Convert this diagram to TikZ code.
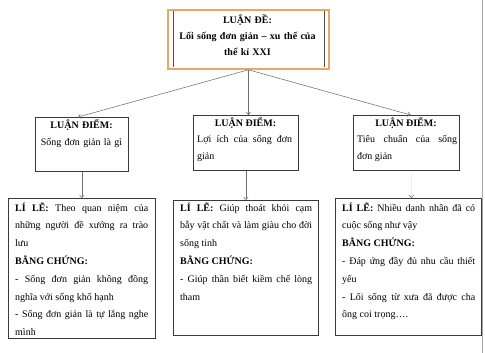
\documentclass[tikz,border=0pt]{standalone}
\usepackage{fontspec}
\setmainfont{Liberation Serif}
\usetikzlibrary{arrows.meta,calc}
\definecolor{boxc}{HTML}{3A3A3A}
\definecolor{connc}{HTML}{707070}
\definecolor{orangec}{HTML}{E9A66A}
\definecolor{innerc}{HTML}{505050}
\definecolor{edgec}{HTML}{A8A8A8}
\begin{document}
\begin{tikzpicture}[x=1pt,y=-1pt,
  box/.style={draw=boxc, line width=0.7pt, inner sep=0pt, anchor=north west},
  txt/.style={inner sep=0pt, anchor=base west, align=justify,
    font=\fontsize{10}{17.8}\selectfont, execute at begin node={\parindent=0pt}},
  ttl/.style={inner sep=0pt, anchor=base, align=center,
    font=\bfseries\fontsize{10}{17}\selectfont},
  conn/.style={draw=connc, line width=0.55pt, -{Straight Barb[length=2.5pt,width=4.5pt]}},
]
\useasboundingbox (0,0) rectangle (485,353);
\fill[white] (0,0) rectangle (485,353);
% right edge line
\draw[edgec, line width=0.7pt] (482.5,0) coordinate (e1) -- (482.5,353) coordinate (e2);

% top box
\node[draw=orangec, line width=1.8pt, minimum width=161pt, minimum height=59pt, anchor=north west, inner sep=0pt] (top) at (167,9) {};
\draw[innerc, line width=0.7pt] ($(top.north west)+(6,2)$) -- ($(top.south west)+(6,-3)$);
\draw[innerc, line width=0.7pt] ($(top.north east)+(-5,2)$) -- ($(top.south east)+(-5,-3)$);
\node[ttl, text width=160pt, font=\bfseries\fontsize{10}{16}\selectfont] (toptxt) at (247.5,23.5)
  {LUẬN ĐỀ:\\Lối sống đơn giản – xu thế của\\thế kỉ XXI};

% upper boxes
\node[box, minimum width=93pt, minimum height=54pt] (ld1) at (35,117) {};
\node[box, minimum width=105pt, minimum height=55pt] (ld2) at (193,115) {};
\node[box, minimum width=106pt, minimum height=55pt] (ld3) at (353,115) {};

\node[inner sep=0pt, anchor=base, align=center, text width=93pt,
  font=\fontsize{10}{17}\selectfont] (ld1t) at (81.5,128.5)
  {\textbf{LUẬN ĐIỂM:}\\Sống đơn giản là gì};
\node[ttl] (ld2t) at (245.5,126.5) {LUẬN ĐIỂM:};
\node[txt, text width=95pt, font=\fontsize{10}{17}\selectfont] (ld2b) at (197,142.5)
  {Lợi ích của sống đơn\linebreak giản};
\node[ttl] (ld3t) at (406,126.5) {LUẬN ĐIỂM:};
\node[txt, text width=100pt, font=\fontsize{10}{17}\selectfont] (ld3b) at (357,142.5)
  {Tiêu chuẩn của sống\linebreak đơn giản};

% lower boxes
\node[box, minimum width=147pt, minimum height=140pt] (ll1) at (8,198) {};
\node[box, minimum width=145pt, minimum height=135pt] (ll2) at (173,200) {};
\node[box, minimum width=146pt, minimum height=137pt] (ll3) at (335,198) {};

\node[txt, text width=133pt] (ll1t) at (15,211)
  {\textbf{LÍ LẼ:} Theo quan niệm của\linebreak những người đề xướng ra trào\linebreak lưu\par
   \textbf{BẰNG CHỨNG:}\par
   - Sống đơn giản không đồng\linebreak nghĩa với sống khổ hạnh\par
   - Sống đơn giản là tự lắng nghe\linebreak mình};
\node[txt, text width=132pt] (ll2t) at (180,211)
  {\textbf{LÍ LẼ:} Giúp thoát khỏi cạm\linebreak bẫy vật chất và làm giàu cho đời\linebreak sống tinh\par
   \textbf{BẰNG CHỨNG:}\par
   - Giúp thần biết kiềm chế lòng\linebreak tham};
\node[txt, text width=133pt] (ll3t) at (342,211)
  {\textbf{LÍ LẼ:} Nhiều danh nhân đã có\linebreak cuộc sống như vậy\par
   \textbf{BẰNG CHỨNG:}\par
   - Đáp ứng đầy đủ nhu cầu thiết\linebreak yếu\par
   - Lối sống từ xưa đã được cha\linebreak ông coi trọng….};

% connectors
\draw[conn] (top.south) -- ($(ld1.north west)!0.46!(ld1.north east)$);
\draw[conn] (top.south) -- (top.south |- ld2.north);
\draw[conn] (top.south) -- ($(ld3.north west)!0.54!(ld3.north east)$);
\draw[conn] (ld1.south) -- (ld1.south |- ll1.north);
\draw[conn] (ld2.south) -- (ld2.south |- ll2.north);
\draw[draw=connc!12, line width=0.55pt, -{Straight Barb[length=2.5pt,width=4.5pt,color=connc]}]
  ($(ld3.south)+(5,0)$) -- ($(ld3.south |- ll3.north)+(5,0)$);
\end{tikzpicture}
\end{document}
